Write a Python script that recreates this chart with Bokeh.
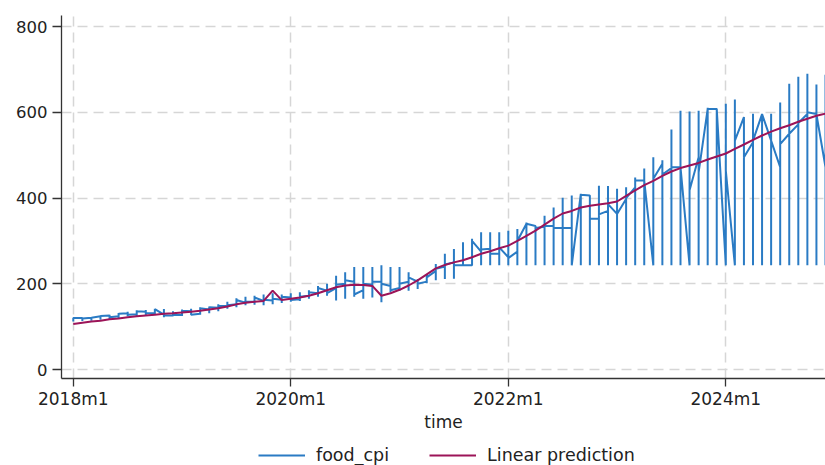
from bokeh.plotting import figure
from bokeh.models import FixedTicker, Legend, LegendItem, Range1d
from bokeh.layouts import column
from bokeh.embed import file_html
from bokeh.resources import INLINE

# months since 2018m1 (2018m1 .. 2024m12)
months = list(range(84))

# food_cpi: four weekly observations per month, in data order
food_cpi_w1 = [120, 120, 121, 124, 126, 124, 131, 129, 135, 131, 128, 126,
               127, 136, 130, 140, 144, 148, 152, 156, 158, 160, 161, 163,
               168, 164, 172, 178, 184, 190, 200, 205, 185, 198, 205, 195,
               190, 205, 205, 205, 230, 240, 250, 243, 243, 275, 282, 270,
               262, 275, 340, 335, 333, 335, 330, 330, 410, 406, 352, 370,
               363, 398, 425, 441, 243, 480, 470, 472, 243, 495, 608, 608,
               243, 243, 589, 530, 596, 534, 472, 550, 572, 596, 596, 472]
food_cpi_w2 = [112, 113, 114, 116, 118, 120, 124, 125, 126, 128, 122, 124,
               125, 127, 128, 131, 136, 142, 145, 150, 151, 150, 152, 155,
               158, 160, 165, 170, 172, 161, 165, 170, 165, 168, 157, 180,
               184, 184, 188, 201, 208, 211, 212, 243, 243, 243, 243, 243,
               243, 243, 243, 243, 243, 243, 243, 243, 243, 243, 243, 243,
               243, 243, 243, 243, 243, 243, 243, 243, 243, 243, 243, 243,
               243, 243, 243, 243, 243, 243, 243, 243, 243, 243, 243, 243]
food_cpi_w3 = [120, 121, 122, 126, 128, 132, 135, 138, 139, 142, 141, 136,
               140, 142, 145, 147, 152, 158, 166, 170, 172, 175, 178, 175,
               178, 180, 185, 195, 200, 219, 227, 239, 239, 239, 243, 239,
               239, 227, 211, 221, 246, 270, 281, 297, 305, 320, 320, 320,
               324, 328, 343, 320, 359, 378, 401, 406, 410, 406, 429, 428,
               422, 425, 448, 469, 495, 488, 560, 604, 602, 604, 611, 609,
               620, 630, 588, 597, 597, 597, 623, 667, 683, 690, 665, 688]
food_cpi_w4 = [120, 119, 121, 125, 122, 130, 128, 136, 131, 141, 126, 128,
               137, 128, 143, 145, 148, 150, 162, 158, 168, 163, 165, 170,
               162, 170, 180, 190, 178, 198, 208, 175, 200, 205, 200, 185,
               200, 215, 200, 215, 235, 245, 243, 243, 300, 280, 270, 285,
               260, 300, 340, 330, 335, 330, 330, 243, 408, 352, 362, 386,
               363, 400, 441, 441, 445, 455, 472, 472, 418, 460, 608, 608,
               464, 534, 495, 534, 596, 534, 526, 550, 575, 600, 596, 472]

# Linear prediction, one value per month
linear_prediction = [106, 109, 112, 114, 117, 119, 122, 124, 126, 128, 130, 131,
                     133, 135, 137, 140, 143, 147, 152, 156, 158, 160, 184, 162,
                     165, 168, 172, 178, 185, 192, 196, 198, 197, 195, 172, 178,
                     186, 196, 208, 222, 236, 244, 250, 255, 262, 270, 276, 283,
                     289, 300, 312, 324, 338, 352, 364, 370, 378, 382, 385, 388,
                     392, 405, 418, 430, 440, 452, 462, 470, 476, 482, 490, 497,
                     504, 515, 525, 536, 546, 555, 563, 570, 578, 585, 592, 597]

x_tick_values = [0, 24, 48, 72]
x_tick_labels = ["2018m1", "2020m1", "2022m1", "2024m1"]
y_tick_values = [0, 200, 400, 600, 800]
series_labels = ["food_cpi", "Linear prediction"]
series_colors = ["#2a7bc4", "#9c1458"]

# build the food_cpi path: observations within a month share the same x
path_x, path_y = [], []
for m, a, b, c, d in zip(months, food_cpi_w1, food_cpi_w2, food_cpi_w3, food_cpi_w4):
    path_x += [m, m, m, m]
    path_y += [a, b, c, d]

FONT = "DejaVu Sans"
TXT = "#222222"
AX = "#333333"

p = figure(width=825, height=435, output_backend="svg", toolbar_location=None,
           x_range=Range1d(-1.3, 83.0), y_range=Range1d(-21, 826),
           min_border_left=61, min_border_right=0, min_border_top=15,
           min_border_bottom=57)
p.outline_line_color = None
p.background_fill_color = "white"
p.border_fill_color = "white"

p.line(path_x, path_y, line_color=series_colors[0], line_width=2)
p.line(months, linear_prediction, line_color=series_colors[1], line_width=2)

p.xaxis.ticker = FixedTicker(ticks=x_tick_values)
p.xgrid.ticker = FixedTicker(ticks=x_tick_values)
p.xaxis.major_label_overrides = {v: s for v, s in zip(x_tick_values, x_tick_labels)}
p.yaxis.ticker = FixedTicker(ticks=y_tick_values)
p.ygrid.ticker = FixedTicker(ticks=y_tick_values)

for g in (p.xgrid, p.ygrid):
    g.grid_line_color = "#d6d6d6"
    g.grid_line_dash = "10 6"
    g.grid_line_width = 1.5

for ax in (p.xaxis, p.yaxis):
    ax.axis_line_color = AX
    ax.axis_line_width = 1.3
    ax.major_tick_line_color = AX
    ax.major_tick_line_width = 1.3
    ax.major_tick_in = 0
    ax.minor_tick_out = 0
    ax.minor_tick_in = 0
    ax.major_label_text_font = FONT
    ax.major_label_text_color = TXT

p.xaxis.major_tick_out = 8
p.xaxis.major_label_standoff = 2
p.xaxis.major_label_text_font_size = "17px"
p.xaxis.axis_label = "time"
p.xaxis.axis_label_text_font = FONT
p.xaxis.axis_label_text_font_size = "17px"
p.xaxis.axis_label_text_font_style = "normal"
p.xaxis.axis_label_text_color = TXT
p.xaxis.axis_label_standoff = 0

p.yaxis.major_tick_out = 9
p.yaxis.major_label_standoff = 5
p.yaxis.major_label_text_font_size = "16.5px"

# legend strip below the chart (same series, drawn outside its visible range)
lg = figure(width=825, height=30, output_backend="svg", toolbar_location=None,
            x_range=Range1d(-300, -200), y_range=Range1d(-300, -200),
            x_axis_type=None, y_axis_type=None,
            min_border_left=0, min_border_right=0, min_border_top=0,
            min_border_bottom=0)
lg.outline_line_color = None
lg.xgrid.visible = False
lg.ygrid.visible = False
lg.border_fill_color = "white"
r_food = lg.line(path_x, path_y, line_color=series_colors[0], line_width=2)
r_pred = lg.line(months, linear_prediction, line_color=series_colors[1], line_width=2)
items = [LegendItem(label=series_labels[0], renderers=[r_food]),
         LegendItem(label=series_labels[1], renderers=[r_pred])]

legend = Legend(items=items, orientation="horizontal", location=(197, 0),
                border_line_color=None, background_fill_alpha=0,
                glyph_width=47, glyph_height=20, label_standoff=11, spacing=40,
                padding=0, margin=0,
                label_text_font=FONT, label_text_font_size="17.5px",
                label_text_color=TXT)
lg.add_layout(legend, "center")

layout = column(p, lg, spacing=0)
open("out.html", "w").write(file_html(layout, INLINE))
